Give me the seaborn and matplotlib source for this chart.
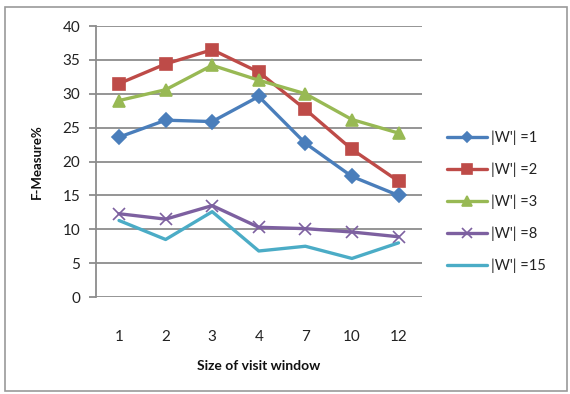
import matplotlib
matplotlib.use("Agg")
import matplotlib.pyplot as plt
import seaborn as sns
import pandas as pd
from matplotlib.patches import Rectangle

window_sizes = ["1", "2", "3", "4", "7", "10", "12"]
w1 = [23.6, 26.1, 25.9, 29.6, 22.7, 17.8, 15.0]
w2 = [31.5, 34.4, 36.5, 33.2, 27.7, 21.8, 17.1]
w3 = [29.0, 30.6, 34.2, 32.0, 30.0, 26.2, 24.2]
w8 = [12.3, 11.5, 13.5, 10.3, 10.1, 9.6, 8.9]
w15 = [11.3, 8.5, 12.6, 6.8, 7.5, 5.7, 8.0]
series_labels = ["|W'| =1", "|W'| =2", "|W'| =3", "|W'| =8", "|W'| =15"]

sns.set_theme(style="white")
plt.rcParams["font.family"] = ["Lato", "DejaVu Sans"]

fig = plt.figure(figsize=(5.7, 3.94), dpi=100)
ax = fig.add_axes([0.168, 0.246, 0.572, 0.688])

styles = [
    ("#4A7EBB", "D", 7),
    ("#BE4B48", "s", 9),
    ("#98B954", "^", 9),
    ("#7D60A0", "x", 9),
    ("#4BACC6", None, 0),
]
for values, label, (color, marker, ms) in zip([w1, w2, w3, w8, w15], series_labels, styles):
    df = pd.DataFrame({"window": window_sizes, "fm": values})
    kw = dict(marker=marker, markersize=ms, markeredgecolor=color, markerfacecolor=color,
              markeredgewidth=1.2) if marker else {}
    sns.lineplot(data=df, x="window", y="fm", ax=ax, color=color, linewidth=2.4,
                 label=label, sort=False, **kw)

ax.set_xlim(-0.5, len(window_sizes) - 0.5)
ax.set_ylim(0, 40)
ax.set_yticks(range(0, 41, 5))
ax.yaxis.grid(True, color="#8c8c8c", linewidth=1.3)
ax.set_axisbelow(True)
for s in ["top", "right", "bottom"]:
    ax.spines[s].set_visible(False)
ax.spines["left"].set_color("#8c8c8c")
ax.spines["left"].set_linewidth(1.3)
ax.tick_params(axis="y", left=True, length=5, color="#8c8c8c", width=1.3,
               labelsize=11, pad=6, labelcolor="#222222")
ax.tick_params(axis="x", bottom=False, labelsize=11, pad=18, labelcolor="#222222")

ax.set_xlabel("Size of visit window", fontsize=10, fontweight="bold", labelpad=11, color="#111111")
ax.set_ylabel("F-Measure%", fontsize=9.5, fontweight="bold", labelpad=14, color="#111111")

leg = ax.legend(loc="center left", bbox_to_anchor=(1.06, 0.35), frameon=False,
                fontsize=10.5, handlelength=2.7, labelspacing=1.2, handletextpad=0.3,
                markerscale=0.75, borderaxespad=0)
for t in leg.get_texts():
    t.set_color("#222222")

fig.patches.append(Rectangle((0.009, 0.008), 0.985, 0.975, transform=fig.transFigure,
                             fill=False, edgecolor="#9a9a9a", linewidth=1.2))

fig.savefig("out.png", dpi=100)
